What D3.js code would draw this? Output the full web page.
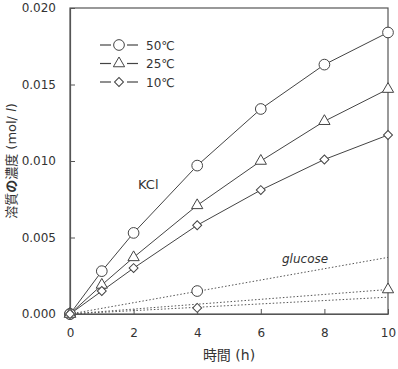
<!DOCTYPE html>
<html>
<head>
<meta charset="utf-8">
<script src="https://cdn.jsdelivr.net/npm/d3@7"></script>
<style>
  body { margin: 0; background: #fff; }
  text { font-family: "DejaVu Sans", "Noto Sans CJK JP", sans-serif; fill: #333; }
</style>
</head>
<body>
<svg id="chart" width="398" height="369"></svg>
<script>
// time (h)
const hours = [0, 1, 2, 4, 6, 8, 10];
// KCl, concentration (mol/l)
const kcl50 = [0, 0.0028, 0.0053, 0.0097, 0.0134, 0.0163, 0.0184];
const kcl25 = [0, 0.0019, 0.0037, 0.0071, 0.0100, 0.0126, 0.0147];
const kcl10 = [0, 0.0015, 0.0030, 0.0058, 0.0081, 0.0101, 0.0117];
// glucose measured points
const glu50 = [[0, 0], [4, 0.0015]];
const glu25 = [[0, 0], [10, 0.0016]];
const glu10 = [[0, 0], [4, 0.0004]];
// glucose dotted trend lines (start, end)
const gluFit50 = [[0, 0], [10, 0.0037]];
const gluFit25 = [[0, 0], [10, 0.0016]];
const gluFit10 = [[0, 0], [10, 0.0011]];

const xTicks = [0, 2, 4, 6, 8, 10];
const yTicks = [0, 0.005, 0.010, 0.015, 0.020];
const legendLabels = ["50℃", "25℃", "10℃"];

const margin = {top: 8, right: 10, bottom: 55, left: 70};
const W = 398, H = 369;
const svg = d3.select("#chart");

let x = d3.scaleLinear().domain([0, 10]).range([margin.left, W - margin.right]);
let y = d3.scaleLinear().domain([0, 0.020]).range([H - margin.bottom, margin.top]);

const axisColor = "#555";
const lineColor = "#444";

// frame
svg.append("rect")
  .attr("x", margin.left).attr("y", margin.top)
  .attr("width", W - margin.left - margin.right)
  .attr("height", H - margin.top - margin.bottom)
  .attr("fill", "none").attr("stroke", axisColor).attr("stroke-width", 1.2);

// axes, ticks pointing inward
let xAxis = d3.axisBottom(x).tickValues(xTicks).tickSizeInner(-5).tickSizeOuter(0).tickPadding(14).tickFormat(d3.format("d"));
let yAxis = d3.axisLeft(y).tickValues(yTicks).tickSizeInner(-5).tickSizeOuter(0).tickPadding(14).tickFormat(d3.format(".3f"));

let gx = svg.append("g").attr("transform", `translate(0,${H - margin.bottom})`).call(xAxis);
let gy = svg.append("g").attr("transform", `translate(${margin.left},0)`).call(yAxis);
[gx, gy].forEach(g => {
  g.select(".domain").attr("stroke", axisColor).attr("stroke-width", 1.2);
  g.selectAll(".tick line").attr("stroke", axisColor);
  g.selectAll(".tick text").style("font-size", "12px").attr("fill", "#333");
});

// glucose dotted lines
const line = d3.line().x(d => x(d[0])).y(d => y(d[1]));
[gluFit50, gluFit25, gluFit10].forEach(f => {
  svg.append("path").attr("d", line(f))
    .attr("fill", "none").attr("stroke", "#555").attr("stroke-width", 1)
    .attr("stroke-dasharray", "1.5,2");
});

// KCl lines
const kclSeries = [kcl50, kcl25, kcl10];
kclSeries.forEach(s => {
  svg.append("path").attr("d", line(hours.map((h, i) => [h, s[i]])))
    .attr("fill", "none").attr("stroke", lineColor).attr("stroke-width", 1);
});

// markers: circle, triangle, diamond (square turned 45°)
const sym = [
  d3.symbol().type(d3.symbolCircle).size(90),
  d3.symbol().type(d3.symbolTriangle).size(55),
  d3.symbol().type(d3.symbolSquare).size(40)
];
const rot = [0, 0, 45];
function drawMarkers(pts, k) {
  svg.selectAll(null).data(pts).enter().append("path")
    .attr("d", sym[k]())
    .attr("transform", d => `translate(${x(d[0])},${y(d[1])}) rotate(${rot[k]})`)
    .attr("fill", "#fff").attr("stroke", lineColor).attr("stroke-width", 1);
}
kclSeries.forEach((s, k) => drawMarkers(hours.map((h, i) => [h, s[i]]), k));
[glu50, glu25, glu10].forEach((g, k) => drawMarkers(g, k));

// legend
legendLabels.forEach((lab, i) => {
  let ly = 45 + i * 18.5;
  svg.append("line").attr("x1", 100).attr("x2", 111).attr("y1", ly).attr("y2", ly)
    .attr("stroke", lineColor).attr("stroke-width", 1.2);
  svg.append("line").attr("x1", 127).attr("x2", 138).attr("y1", ly).attr("y2", ly)
    .attr("stroke", lineColor).attr("stroke-width", 1.2);
  svg.append("path").attr("d", sym[i]())
    .attr("transform", `translate(119,${ly}) rotate(${rot[i]})`)
    .attr("fill", "#fff").attr("stroke", lineColor).attr("stroke-width", 1);
  svg.append("text").attr("x", 146).attr("y", ly + 4.5).text(lab).style("font-size", "12px");
});

// annotations
svg.append("text").attr("x", 138).attr("y", 189).text("KCl").style("font-size", "13px");
svg.append("text").attr("x", 282).attr("y", 263).text("glucose")
  .style("font-size", "12px").style("font-style", "italic");

// axis titles
svg.append("text").attr("x", 229).attr("y", 360).attr("text-anchor", "middle")
  .style("font-size", "14px").text("時間 (h)");

let yl = svg.append("text").attr("transform", "translate(16,161) rotate(-90)")
  .attr("text-anchor", "middle").style("font-size", "13px");
yl.append("tspan").text("溶質");
yl.append("tspan").text("の").style("font-weight", "bold");
yl.append("tspan").text("濃度 (mol/ ");
yl.append("tspan").text("l").style("font-style", "italic");
yl.append("tspan").text(")");
</script>
</body>
</html>
